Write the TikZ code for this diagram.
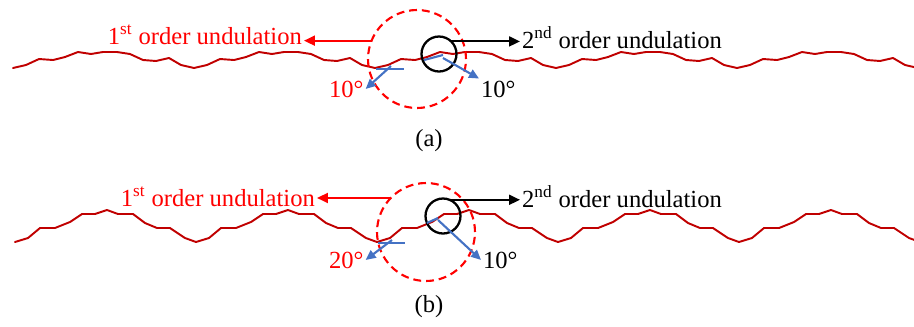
\documentclass[tikz,border=0pt]{standalone}
\usepackage{fontspec}
\setmainfont{Liberation Serif}
\usepackage{tikz}
\usetikzlibrary{arrows.meta,positioning,calc}
\definecolor{profred}{HTML}{C00000}
\definecolor{labred}{HTML}{FF0000}
\definecolor{angblue}{HTML}{4472C4}
% one period of each profile, trough to trough
\newcommand{\perA}{(0,68) (13,65) (26,59) (40,60) (52,57) (65,52) (78,54) (90,52) (104,52) (117,54) (130,60) (143,61) (156,58) (168,65) (181,68)}
\newcommand{\perB}{(0,242) (13,238) (25,228) (40,228) (55,222) (67,214) (80,214) (92,210) (103,214) (118,214) (130,223) (142,228) (155,228) (170,238) (181,242)}

\begin{document}
\begin{tikzpicture}[x=0.02cm,y=-0.02cm,>=Latex,
  every node/.style={font=\fontsize{14}{16}\selectfont,inner sep=1pt},
  profile/.style={profred,line width=1.1pt,line join=round,line cap=round},
  ring/.style={draw=labred,dashed,dash pattern=on 4.5pt off 2.8pt,line width=1.2pt,circle,minimum size=1.96cm,inner sep=0pt,outer sep=0pt},
  zoomring/.style={draw=black,line width=1.3pt,circle,minimum size=0.7cm,inner sep=0pt,outer sep=0pt},
  redarrow/.style={draw=labred,line width=1.1pt,-{Triangle[length=2.2mm,width=2mm]}},
  blackarrow/.style={draw=black,line width=1.1pt,-{Triangle[length=2.2mm,width=2mm]}},
  angline/.style={draw=angblue,line width=1.2pt},
  angarrow/.style={draw=angblue,line width=1.2pt,-{Triangle[length=2mm,width=1.8mm]}}]
\useasboundingbox (0,0) rectangle (914,326);

% profiles
\begin{scope}
\clip (10,0) rectangle (914,326);
\foreach \k in {0,...,4}
  \draw[profile,shift={(13+181*\k,0)}] plot coordinates {\perA};
\foreach \k in {0,...,4}
  \draw[profile,shift={(15+181*\k,0)}] plot coordinates {\perB};
\end{scope}

% (a)
\node[ring] (ringA) at (417,59) {};
\node[zoomring] (zoomA) at (439,54) {};
\node[text=labred,anchor=base east] (firstA) at (304,44) {1\textsuperscript{st} order undulation};
\node[anchor=base west] (secA) at (520,48) {2\textsuperscript{nd} order undulation};
\draw[redarrow] (ringA.158) -- (ringA.158 -| firstA.east);
\draw[blackarrow] (zoomA.46) -- (zoomA.46 -| secA.west);
\node[text=labred,anchor=base west] (angA1) at (327,97) {10°};
\node[anchor=base west] (angA2) at (479,97) {10°};
\coordinate (baseA1) at (391,66);
\coordinate (baseA2) at (443,58);
\draw[angline] (376,69) -- (404,69);
\draw[angline] (424,60) -- (443,55);
\draw[angarrow] (baseA1) -- (angA1.east);
\draw[angarrow] (baseA2) -- (angA2.north west);
\node (capA) at (429,141) {(a)};

% (b)
\node[ring] (ringB) at (426,232) {};
\node[zoomring] (zoomB) at (443,216) {};
\node[text=labred,anchor=base east] (firstB) at (317,206) {1\textsuperscript{st} order undulation};
\node[anchor=base west] (secB) at (520,207) {2\textsuperscript{nd} order undulation};
\draw[redarrow] (ringB.136) -- (ringB.136 -| firstB.east);
\draw[blackarrow] (zoomB.68) -- (zoomB.68 -| secB.west);
\node[text=labred,anchor=base west] (angB1) at (327,268) {20°};
\node[anchor=base west] (angB2) at (481,268) {10°};
\coordinate (baseB1) at (392,240);
\coordinate (baseB2) at (438,220);
\draw[angline] (378,243) -- (405,243);
\draw[angline] (427,223) -- (438,218);
\draw[angarrow] (baseB1) -- (angB1.east);
\draw[angarrow] (baseB2) -- (angB2.west);
\node (capB) at (429,307) {(b)};
\end{tikzpicture}
\end{document}
